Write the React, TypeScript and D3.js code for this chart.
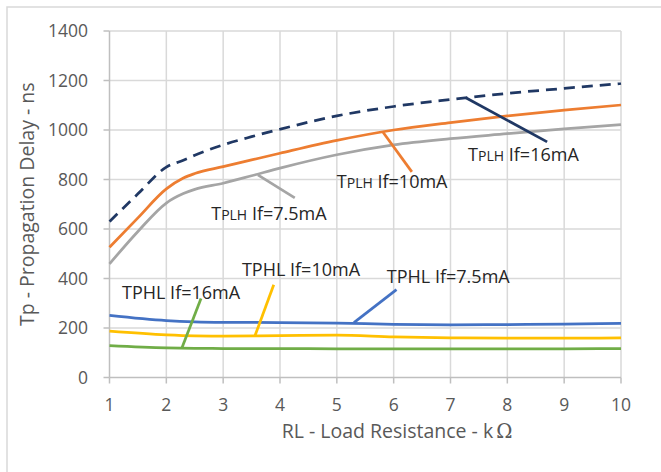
import React from 'react';
import * as d3 from 'd3';

// load resistance (kOhm) sample points
const rlPLH = [1, 1.5, 2, 2.3, 2.5, 3, 3.5, 4, 5, 6, 7, 8, 9, 10];
const rlPHL = [1, 2, 2.5, 3, 4, 5, 6, 7, 8, 9, 10];

// propagation delay (ns)
const tplh16 = [630, 742, 850, 878, 898, 940, 973, 1003, 1057, 1095, 1123, 1148, 1168, 1188];
const tplh10 = [526, 645, 762, 806, 824, 852, 879, 906, 958, 1000, 1030, 1057, 1080, 1101];
const tplh75 = [459, 590, 705, 743, 760, 785, 815, 846, 900, 940, 965, 985, 1005, 1022];
const tphl75 = [251, 230, 225, 223, 222, 220, 215, 213, 214, 216, 219];
const tphl10 = [187, 172, 168, 167, 169, 171, 164, 160, 159, 159, 160];
const tphl16 = [129, 120, 118, 117, 117, 116, 116, 116, 116, 116, 117];

const xTicks = [1, 2, 3, 4, 5, 6, 7, 8, 9, 10];
const yTicks = [0, 200, 400, 600, 800, 1000, 1200, 1400];

// callouts, in data units (kOhm, ns)
const labelKind = ['PLH', 'PLH', 'PLH', 'PHL', 'PHL', 'PHL'];
const labelCurrent = ['16mA', '10mA', '7.5mA', '16mA', '10mA', '7.5mA'];
const leaderFrom: [number, number][] = [[7.27, 1130], [5.81, 992], [3.61, 819], [2.27, 117], [3.56, 169], [5.30, 222]];
const leaderTo: [number, number][] = [[8.70, 952], [6.32, 831], [4.26, 726], [2.61, 319], [3.89, 375], [6.05, 355]];
const labelAt: [number, number][] = [[7.31, 875], [5.0, 766], [2.79, 637], [1.22, 319], [3.33, 411], [5.88, 383]];

const C = {
  navy: '#203864',
  orange: '#ED7D31',
  gray: '#A5A5A5',
  blue: '#4472C4',
  yellow: '#FFC000',
  green: '#70AD47',
};

const series = [
  { xs: rlPLH, ys: tplh16, color: C.navy, dash: '11,7' },
  { xs: rlPLH, ys: tplh10, color: C.orange, dash: null },
  { xs: rlPLH, ys: tplh75, color: C.gray, dash: null },
  { xs: rlPHL, ys: tphl75, color: C.blue, dash: null },
  { xs: rlPHL, ys: tphl10, color: C.yellow, dash: null },
  { xs: rlPHL, ys: tphl16, color: C.green, dash: null },
];
const labelColors = [C.navy, C.orange, C.gray, C.green, C.yellow, C.blue];

const FONT = '"Open Sans", "Noto Sans", sans-serif';

export default function App() {
  const W = 661;
  const H = 472;
  const x = d3.scaleLinear().domain([1, 10]).range([109.5, 621]);
  const y = d3.scaleLinear().domain([0, 1400]).range([377.5, 31]);

  const line = d3
    .line<[number, number]>()
    .x(d => x(d[0]))
    .y(d => y(d[1]))
    .curve(d3.curveMonotoneX);

  return (
    <svg width={W} height={H} style={{ position: 'absolute', left: 0, top: 0, background: '#fff' }}>
      <rect x={7} y={7} width={720} height={520} fill="#fff" stroke="#d9d9d9" strokeWidth={1.5} />

      {/* gridlines */}
      {yTicks.filter(t => t > 0).map(t => (
        <line key={'gy' + t} x1={x(1)} x2={x(10)} y1={y(t)} y2={y(t)} stroke="#d9d9d9" strokeWidth={1.5} />
      ))}
      {xTicks.filter(t => t > 1).map(t => (
        <line key={'gx' + t} x1={x(t)} x2={x(t)} y1={y(0)} y2={y(1400)} stroke="#d9d9d9" strokeWidth={1.5} />
      ))}

      {/* axes */}
      <line x1={x(1)} x2={x(1)} y1={y(0)} y2={y(1400)} stroke="#bfbfbf" strokeWidth={1.5} />
      <line x1={x(1)} x2={x(10)} y1={y(0)} y2={y(0)} stroke="#bfbfbf" strokeWidth={1.5} />
      {yTicks.map(t => (
        <g key={'ty' + t}>
          <line x1={x(1) - 6} x2={x(1)} y1={y(t)} y2={y(t)} stroke="#bfbfbf" strokeWidth={1.5} />
          <text x={88} y={y(t)} dy="0.36em" textAnchor="end" fontFamily={FONT} fontSize={17.5} fill="#595959">
            {t}
          </text>
        </g>
      ))}
      {xTicks.map(t => (
        <g key={'tx' + t}>
          <line x1={x(t)} x2={x(t)} y1={y(0)} y2={y(0) + 6} stroke="#bfbfbf" strokeWidth={1.5} />
          <text x={x(t)} y={411} textAnchor="middle" fontFamily={FONT} fontSize={17.5} fill="#595959">
            {t}
          </text>
        </g>
      ))}

      {/* axis titles */}
      <text x={397} y={438} textAnchor="middle" fontFamily={FONT} fontSize={19.5} fill="#595959">
        RL - Load Resistance - k<tspan dx={3} fontFamily="'DejaVu Serif', serif">Ω</tspan>
      </text>
      <text
        transform={`translate(34, ${(y(0) + y(1400)) / 2}) rotate(-90)`}
        textAnchor="middle"
        fontFamily={FONT}
        fontSize={19.5}
        fill="#595959"
      >
        Tp - Propagation Delay - ns
      </text>

      {/* series */}
      {series.map((s, i) => (
        <path
          key={'s' + i}
          d={line(s.xs.map((v, j) => [v, s.ys[j]] as [number, number])) || ''}
          fill="none"
          stroke={s.color}
          strokeWidth={2.75}
          strokeDasharray={s.dash || undefined}
        />
      ))}

      {/* callouts */}
      {labelKind.map((k, i) => (
        <g key={'c' + i}>
          <line
            x1={x(leaderFrom[i][0])}
            y1={y(leaderFrom[i][1])}
            x2={x(leaderTo[i][0])}
            y2={y(leaderTo[i][1])}
            stroke={labelColors[i]}
            strokeWidth={2.75}
          />
          <text x={x(labelAt[i][0])} y={y(labelAt[i][1])} fontFamily={FONT} fontSize={18} fill="#262626">
            T
            {k === 'PLH' ? <tspan fontSize={14}>PLH</tspan> : <tspan>PHL</tspan>}
            {' If=' + labelCurrent[i]}
          </text>
        </g>
      ))}
    </svg>
  );
}
